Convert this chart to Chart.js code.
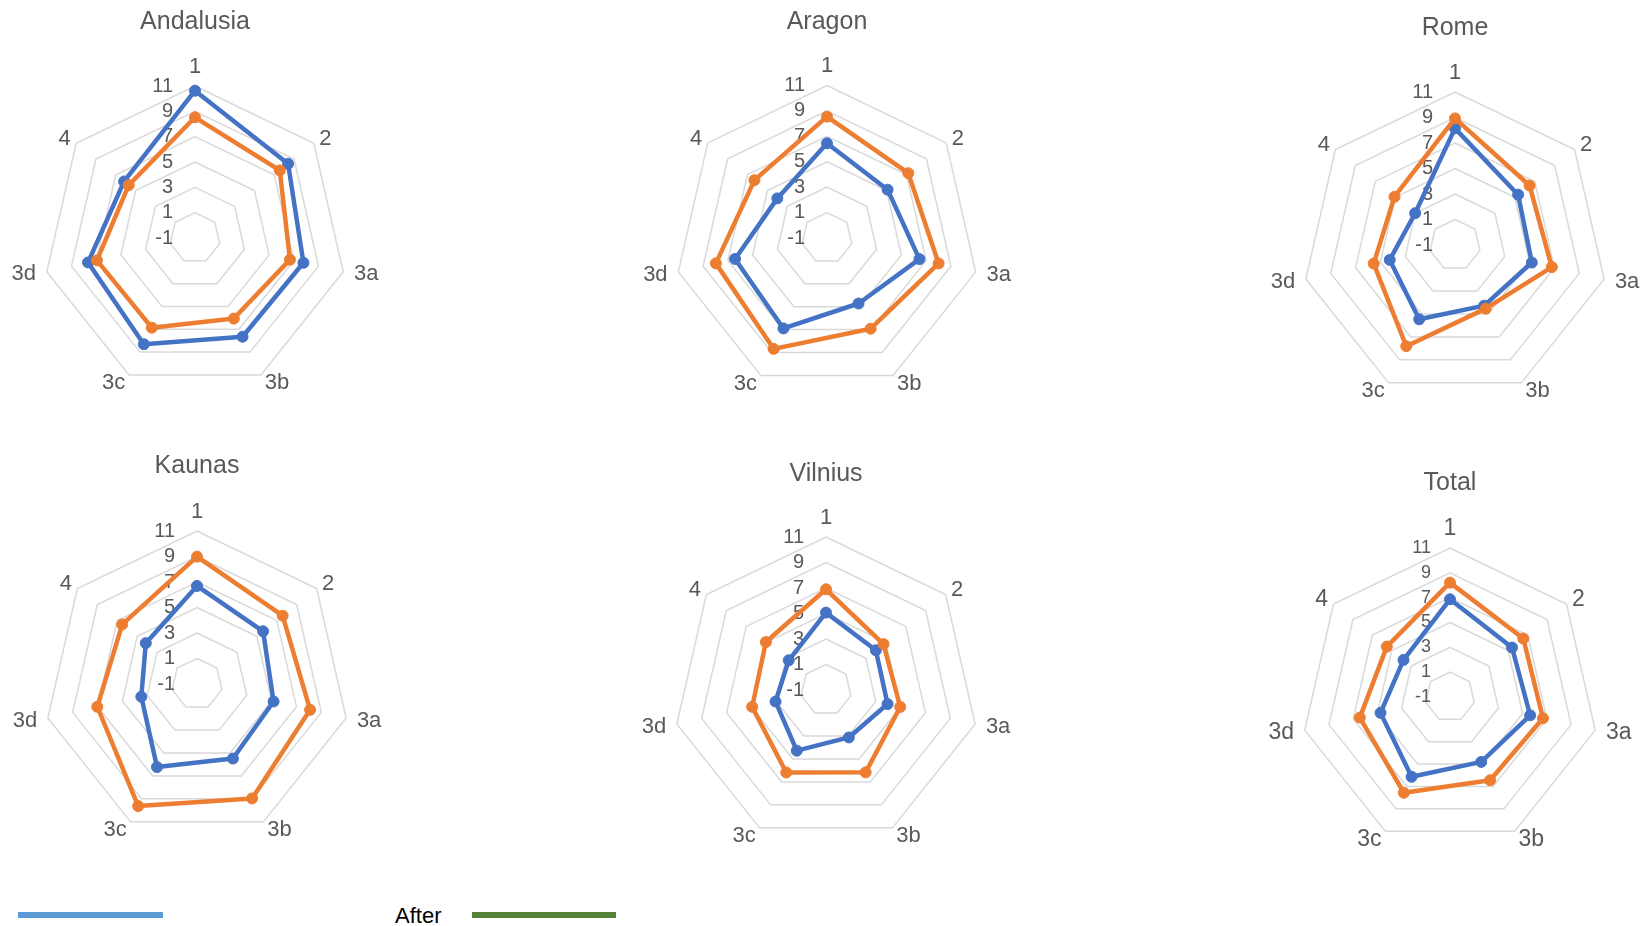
<!DOCTYPE html>
<html>
<head>
<meta charset="utf-8">
<script src="https://cdn.jsdelivr.net/npm/chart.js@4/dist/chart.umd.min.js"></script>
<style>
  html, body { margin: 0; padding: 0; background: #ffffff; }
  body { width: 1647px; height: 926px; position: relative; overflow: hidden; }
  canvas.radar { position: absolute; }
  .key-line { position: absolute; height: 6px; }
  .key-text { position: absolute; font-family: "Liberation Sans", Arial, sans-serif; font-size: 22px; color: #000; line-height: 1; }
</style>
</head>
<body>
<script>
// Axis categories and ring tick values shared by every radar
const axisLabels = ['1', '2', '3a', '3b', '3c', '3d', '4'];
const ringValues = [-1, 1, 3, 5, 7, 9, 11];

// Chart titles
const regionNames = ['Andalusia', 'Aragon', 'Rome', 'Kaunas', 'Vilnius', 'Total'];

// Scores per axis (order follows axisLabels)
const andalusiaBefore = [10.63, 8.40, 7.78, 7.65, 8.31, 7.66, 6.16];
const andalusiaAfter  = [8.53, 7.56, 6.69, 6.06, 6.86, 6.94, 5.69];
const aragonBefore    = [6.45, 5.10, 6.46, 4.72, 6.90, 6.42, 4.00];
const aragonAfter     = [8.55, 7.18, 8.01, 6.92, 8.68, 7.97, 6.30];
const romeBefore      = [8.15, 5.33, 5.18, 4.28, 5.47, 4.25, 3.00];
const romeAfter       = [8.93, 6.48, 6.79, 4.54, 7.81, 5.54, 5.07];
const kaunasBefore    = [6.69, 5.63, 5.16, 5.49, 6.23, 3.48, 4.14];
const kaunasAfter     = [8.99, 7.59, 8.10, 8.96, 9.63, 7.02, 6.50];
const vilniusBefore   = [5.07, 4.00, 3.95, 3.13, 4.28, 3.06, 2.74];
const vilniusAfter    = [6.90, 4.77, 4.97, 6.17, 6.18, 4.94, 5.03];
const totalBefore     = [6.87, 5.39, 5.62, 4.80, 6.13, 4.74, 3.79];
const totalAfter      = [8.21, 6.55, 6.68, 6.44, 7.56, 6.45, 5.51];

const beforeSeries = [andalusiaBefore, aragonBefore, romeBefore, kaunasBefore, vilniusBefore, totalBefore];
const afterSeries  = [andalusiaAfter, aragonAfter, romeAfter, kaunasAfter, vilniusAfter, totalAfter];

// Page layout of each radar: centre, radius, title middle, font sizes
const frames = [
  { cx: 195,  cy: 238, r: 152,   rowTop: 0,   titleMid: 21.7,  tickSize: 20, tickGap: 22, labelSize: 22 },
  { cx: 827,  cy: 238, r: 152.5, rowTop: 0,   titleMid: 21.7,  tickSize: 20, tickGap: 22, labelSize: 22 },
  { cx: 1455, cy: 245, r: 153,   rowTop: 0,   titleMid: 27.7,  tickSize: 20, tickGap: 22, labelSize: 22 },
  { cx: 197,  cy: 684, r: 153,   rowTop: 430, titleMid: 466,   tickSize: 20, tickGap: 22, labelSize: 22 },
  { cx: 826,  cy: 690, r: 153,   rowTop: 430, titleMid: 473.7, tickSize: 20, tickGap: 22, labelSize: 22 },
  { cx: 1450, cy: 697, r: 149,   rowTop: 430, titleMid: 482.7, tickSize: 18, tickGap: 19, labelSize: 23 }
];

const CANVAS_W = 400;
const CANVAS_H = 430;
const TEXT_GREY = '#595959';
const FONT = '"Liberation Sans", Arial, sans-serif';
// distance of each category label beyond the outer ring
const labelPadding = [19, 7, 11, 9, 9, 11, 7];

// Ring values are printed just left of the first spoke, right aligned,
// underneath the series lines.
const ringLabelPlugin = {
  id: 'ringLabels',
  beforeDatasetsDraw(chart, args, opts) {
    const s = chart.scales.r;
    const ctx = chart.ctx;
    ctx.save();
    ctx.font = opts.size + 'px ' + FONT;
    ctx.fillStyle = TEXT_GREY;
    ctx.textAlign = 'right';
    ctx.textBaseline = 'middle';
    s.ticks.forEach(t => {
      const d = s.getDistanceFromCenterForValue(t.value);
      ctx.fillText(t.label, s.xCenter - opts.gap, s.yCenter - d);
    });
    ctx.restore();
  }
};

function makeRadar(i) {
  const f = frames[i];
  const canvas = document.createElement('canvas');
  canvas.className = 'radar';
  canvas.width = CANVAS_W;
  canvas.height = CANVAS_H;
  canvas.style.left = (f.cx - CANVAS_W / 2) + 'px';
  canvas.style.top = f.rowTop + 'px';
  document.body.appendChild(canvas);

  const centreX = CANVAS_W / 2;
  const centreY = f.cy - f.rowTop;

  new Chart(canvas, {
    type: 'radar',
    data: {
      labels: axisLabels,
      datasets: [
        {
          label: 'Before',
          data: beforeSeries[i],
          borderColor: '#4472C4',
          backgroundColor: '#4472C4',
          pointBackgroundColor: '#4472C4',
          pointBorderColor: '#4472C4',
          order: 1
        },
        {
          label: 'After',
          data: afterSeries[i],
          borderColor: '#ED7D31',
          backgroundColor: '#ED7D31',
          pointBackgroundColor: '#ED7D31',
          pointBorderColor: '#ED7D31',
          order: 0
        }
      ]
    },
    options: {
      responsive: false,
      animation: false,
      events: [],
      layout: { padding: 0 },
      elements: {
        line: { borderWidth: 4.5, fill: false, tension: 0, borderJoinStyle: 'round' },
        point: { radius: 5.5, borderWidth: 1, hoverRadius: 5.5 }
      },
      datasets: { radar: { clip: false } },
      scales: {
        r: {
          min: ringValues[0],
          max: ringValues[ringValues.length - 1],
          ticks: { stepSize: ringValues[1] - ringValues[0], display: false },
          angleLines: { display: false },
          grid: { color: '#D9D9D9', lineWidth: 1.5, circular: false },
          pointLabels: {
            color: TEXT_GREY,
            font: { family: FONT, size: f.labelSize, lineHeight: 0.01 },
            padding: ctx => labelPadding[ctx.index]
          },
          // pin the polar frame to its place on the page
          afterSetDimensions(scale) {
            scale.left = -10000; scale.right = 10000;
            scale.top = -10000; scale.bottom = 10000;
            scale.xCenter = centreX;
            scale.yCenter = centreY;
            scale.drawingArea = f.r;
          }
        }
      },
      plugins: {
        legend: { display: false },
        tooltip: { enabled: false },
        title: {
          display: true,
          text: regionNames[i],
          color: TEXT_GREY,
          font: { family: FONT, size: 25, weight: 'normal', lineHeight: 1.2 },
          padding: { top: f.titleMid - f.rowTop - 15, bottom: 0 }
        },
        ringLabels: { size: f.tickSize, gap: f.tickGap }
      }
    },
    plugins: [ringLabelPlugin]
  });
}

regionNames.forEach((_, i) => makeRadar(i));

// Key strip along the bottom edge
function keyLine(left, width, colour) {
  const d = document.createElement('div');
  d.className = 'key-line';
  d.style.left = left + 'px';
  d.style.width = width + 'px';
  d.style.top = '912px';
  d.style.background = colour;
  document.body.appendChild(d);
}
keyLine(18, 145, '#5B9BD5');
const keyText = document.createElement('div');
keyText.className = 'key-text';
keyText.textContent = 'After';
keyText.style.left = '395px';
keyText.style.top = '905px';
document.body.appendChild(keyText);
keyLine(472, 144, '#548235');
</script>
</body>
</html>
